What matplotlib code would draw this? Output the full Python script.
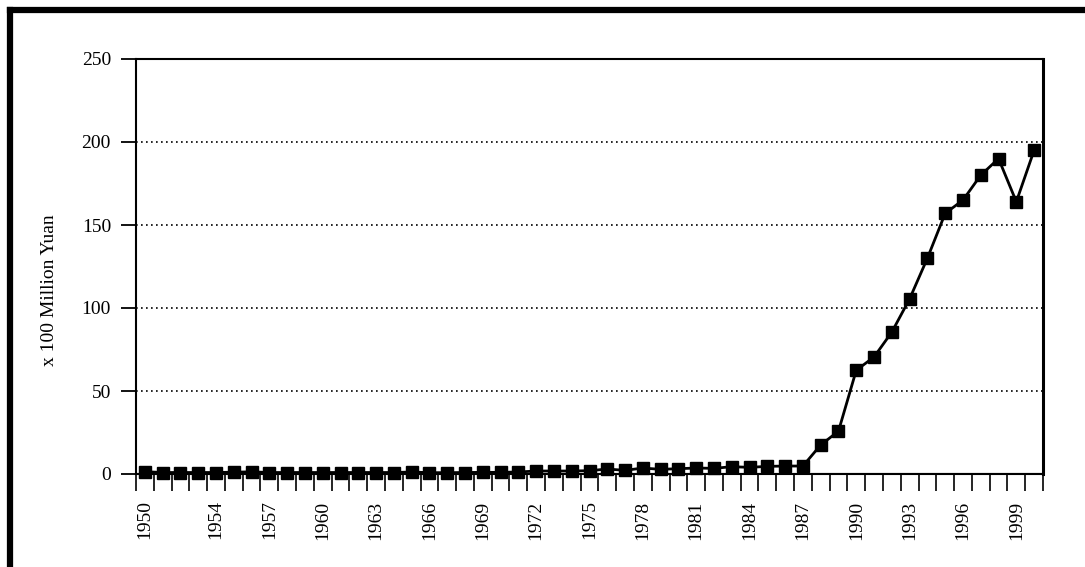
import matplotlib
matplotlib.use('Agg')
import matplotlib.pyplot as plt
import numpy as np
from matplotlib.patches import Rectangle

# 데이터 (1950 - 2000)
years = list(range(1950, 2001))
values = [1.4, 0.9, 0.9, 0.9, 0.9, 1.1, 1.3, 0.9, 0.9, 0.9,
          0.9, 0.9, 0.9, 0.9, 0.9, 1.2, 0.8, 0.8, 0.9, 1.0,
          1.0, 1.2, 1.8, 1.8, 1.8, 2.0, 3.0, 2.2, 3.6, 2.8,
          3.2, 3.6, 3.4, 4.4, 4.0, 4.6, 4.8, 4.8, 17.5, 25.8,
          62.5, 70.5, 85.5, 105.5, 130.0, 157.0, 165.0, 180.0, 190.0, 164.0,
          195.0]
label_years = [1950] + list(range(1954, 2000, 3))
y_ticks = [0, 50, 100, 150, 200, 250]

plt.rcParams['font.family'] = ['Liberation Serif', 'DejaVu Serif']

fig = plt.figure(figsize=(10.85, 5.67), dpi=100)
ax = fig.add_axes([136 / 1085, 93 / 567, 907 / 1085, 415 / 567])

x = np.arange(len(years))
ax.plot(x, values, color='black', linewidth=2, marker='s', markersize=9,
        markerfacecolor='black', markeredgecolor='black', clip_on=False, zorder=3)

ax.set_xlim(-0.5, len(years) - 0.5)
ax.set_ylim(0, 250)

# 격자선 (점선)
for v in y_ticks[1:-1]:
    ax.axhline(v, color='black', linestyle=(0, (1, 2)), linewidth=1.2, zorder=1)
ax.axhline(0, color='black', linewidth=1.5, zorder=2)

ax.set_yticks(y_ticks)
ax.tick_params(axis='y', direction='out', length=11, width=1.3, pad=7, labelsize=14)

# 카테고리 축: 라벨은 가운데, 눈금은 경계에
ax.set_xticks([years.index(y) for y in label_years])
ax.set_xticklabels([str(y) for y in label_years], rotation=90)
ax.set_xticks(np.arange(-0.5, len(years)), minor=True)
ax.tick_params(axis='x', which='major', length=0, pad=19, labelsize=14)
ax.tick_params(axis='x', which='minor', direction='out', length=12, width=1.2)

for side in ['left', 'top', 'bottom']:
    ax.spines[side].set_linewidth(1.5)
ax.spines['right'].set_linewidth(2.2)

ax.set_ylabel('x 100 Million Yuan', fontsize=14)
ax.yaxis.set_label_coords(-0.086, 0.443)

# 바깥 테두리 (왼쪽, 위)
fig.add_artist(plt.Line2D([10 / 1085, 10 / 1085], [0, 1 - 10 / 567],
                          transform=fig.transFigure, color='black', linewidth=4.5))
fig.add_artist(plt.Line2D([10 / 1085, 1], [1 - 10 / 567, 1 - 10 / 567],
                          transform=fig.transFigure, color='black', linewidth=4.5))

fig.savefig('out.png', dpi=100)
